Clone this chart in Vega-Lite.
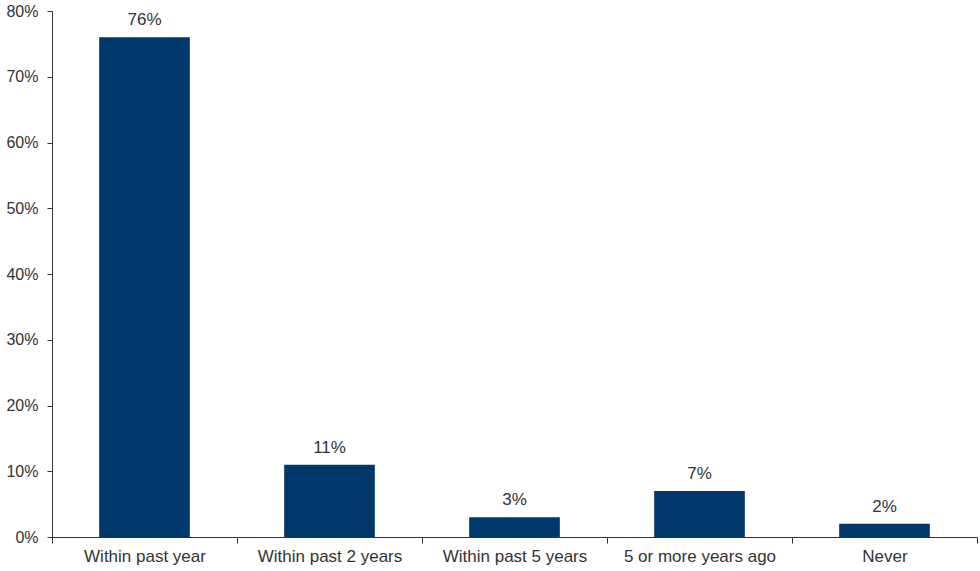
{
  "$schema": "https://vega.github.io/schema/vega-lite/v6.json",
  "width": 925,
  "height": 526,
  "autosize": {"type": "none"},
  "padding": {"left": 52, "top": 11, "right": 3, "bottom": 34},
  "background": "white",
  "config": {
    "view": {"stroke": null},
    "font": "Liberation Sans",
    "axis": {
      "labelFont": "Liberation Sans",
      "labelColor": "#333333",
      "domainColor": "#333333",
      "tickColor": "#333333",
      "grid": false,
      "title": null
    }
  },
  "data": {
    "values": [
      {"category": "Within past year", "share": 0.76},
      {"category": "Within past 2 years", "share": 0.11},
      {"category": "Within past 5 years", "share": 0.03},
      {"category": "5 or more years ago", "share": 0.07},
      {"category": "Never", "share": 0.02}
    ]
  },
  "encoding": {
    "x": {
      "field": "category",
      "type": "nominal",
      "sort": null,
      "scale": {"paddingInner": 0, "paddingOuter": 0},
      "axis": {"labelAngle": 0, "tickBand": "extent", "tickSize": 6, "labelPadding": 5, "labelFontSize": 17}
    },
    "y": {
      "field": "share",
      "type": "quantitative",
      "scale": {"domain": [0, 0.8], "nice": false},
      "axis": {"format": ".0%", "values": [0, 0.1, 0.2, 0.3, 0.4, 0.5, 0.6, 0.7, 0.8], "tickSize": 5, "labelPadding": 9, "labelFontSize": 16}
    }
  },
  "layer": [
    {"mark": {"type": "bar", "color": "#01386b", "width": {"band": 0.49}}},
    {
      "mark": {"type": "text", "baseline": "alphabetic", "dy": -12, "fontSize": 17, "color": "#333333"},
      "encoding": {"text": {"field": "share", "type": "quantitative", "format": ".0%"}}
    }
  ]
}
